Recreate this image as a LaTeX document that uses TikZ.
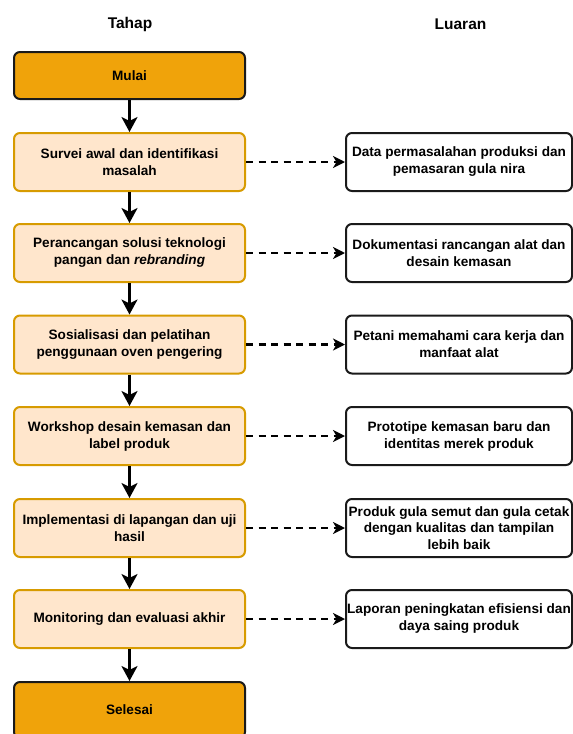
\documentclass[tikz,border=0pt]{standalone}
\usepackage{fontspec}
\setmainfont{Liberation Sans}
\usetikzlibrary{arrows.meta,positioning}
\definecolor{stepfill}{HTML}{FFE6CC}
\definecolor{stepdraw}{HTML}{D79B00}
\definecolor{termfill}{HTML}{F0A30A}
\definecolor{darkline}{HTML}{1A1A1A}
\tikzset{
  x=1pt,y=-1pt,
  base/.style={rounded corners=6pt, line width=2pt, align=center, inner sep=0pt,
    font=\fontsize{13.6}{17}\selectfont\bfseries},
  termbox/.style={base, fill=termfill, draw=darkline, minimum width=231pt},
  stepbox/.style={base, fill=stepfill, draw=stepdraw, minimum width=231pt, minimum height=58pt},
  outbox/.style={base, fill=white, draw=darkline, minimum width=226pt, minimum height=58pt},
  flow/.style={line width=3pt, -{Stealth[length=15pt,width=16pt,inset=4pt]}},
  outflow/.style={line width=2.5pt, dash pattern=on 7pt off 5.5pt, -{Stealth[length=12pt,width=12pt,inset=3.5pt]}},
  head/.style={font=\fontsize{15.5}{18}\selectfont\bfseries}
}
\begin{document}
\begin{tikzpicture}
\useasboundingbox (0,0) rectangle (573,734);
\node[head] (tahap) at (130,24) {Tahap};
\node[head] (luaran) at (460.5,24) {Luaran};

\node[termbox, minimum height=47pt] (mulai) at (129.5,75.5) {Mulai};
\node[stepbox] (s1) at (129.5,162) {Survei awal dan identifikasi\\masalah};
\node[stepbox] (s2) at (129.5,253) {Perancangan solusi teknologi\\pangan dan \textit{rebranding}};
\node[stepbox] (s3) at (129.5,344.5) {Sosialisasi dan pelatihan\\penggunaan oven pengering};
\node[stepbox] (s4) at (129.5,436) {Workshop desain kemasan dan\\label produk};
\node[stepbox] (s5) at (129.5,528) {Implementasi di lapangan dan uji\\hasil};
\node[stepbox] (s6) at (129.5,619) {Monitoring dan evaluasi akhir};
\node[termbox, minimum height=56pt] (selesai) at (129.5,710) {Selesai};

\node[outbox] (o1) at (459,162) {Data permasalahan produksi dan\\pemasaran gula nira};
\node[outbox] (o2) at (459,253) {Dokumentasi rancangan alat dan\\desain kemasan};
\node[outbox] (o3) at (459,344.5) {Petani memahami cara kerja dan\\manfaat alat};
\node[outbox] (o4) at (459,436) {Prototipe kemasan baru dan\\identitas merek produk};
\node[outbox, font=\fontsize{13.6}{16.5}\selectfont\bfseries] (o5) at (459,528) {Produk gula semut dan gula cetak\\dengan kualitas dan tampilan\\lebih baik};
\node[outbox] (o6) at (459,619) {Laporan peningkatan efisiensi dan\\daya saing produk};

\draw[flow] (mulai) -- (s1);
\draw[flow] (s1) -- (s2);
\draw[flow] (s2) -- (s3);
\draw[flow] (s3) -- (s4);
\draw[flow] (s4) -- (s5);
\draw[flow] (s5) -- (s6);
\draw[flow] (s6) -- (selesai);

\draw[outflow] (s1) -- (o1);
\draw[outflow] (s2) -- (o2);
\draw[outflow] (s3) -- (o3);
\draw[outflow] (s4) -- (o4);
\draw[outflow] (s5) -- (o5);
\draw[outflow] (s6) -- (o6);
\end{tikzpicture}
\end{document}
